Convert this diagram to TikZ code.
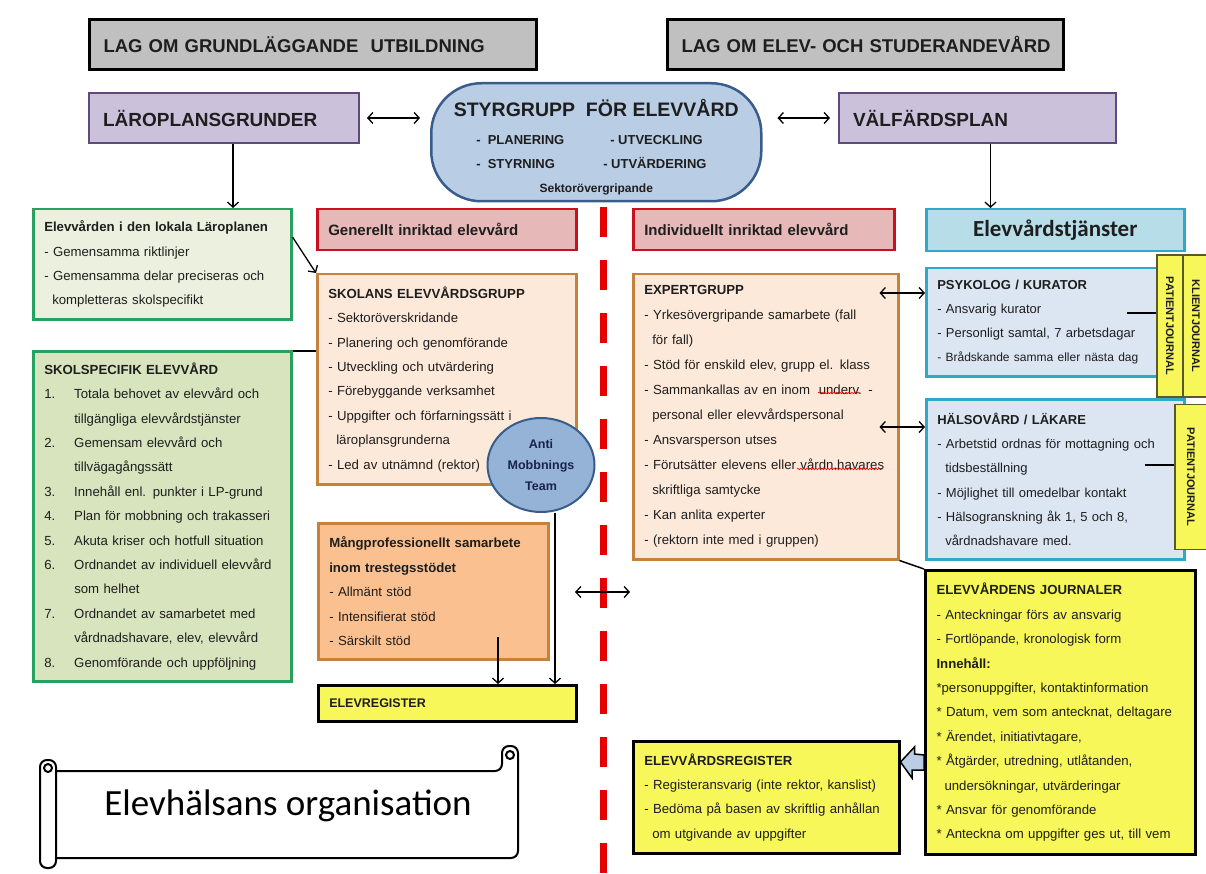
\documentclass[tikz,border=0pt]{standalone}
\usepackage{fontspec}
\setmainfont{Liberation Sans}
\newfontfamily\calibri{Carlito}
\usetikzlibrary{shapes,arrows.meta}
\usetikzlibrary{positioning}
\usetikzlibrary{decorations.pathmorphing}
\definecolor{lawgray}{RGB}{192,192,192}
\definecolor{planfill}{RGB}{204,193,218}
\definecolor{planedge}{RGB}{96,74,123}
\definecolor{styrfill}{RGB}{185,205,229}
\definecolor{styredge}{RGB}{56,93,138}
\definecolor{antifill}{RGB}{149,179,215}
\definecolor{greenedge}{RGB}{40,160,95}
\definecolor{greenfill}{RGB}{235,241,222}
\definecolor{greendark}{RGB}{215,228,189}
\definecolor{rededge}{RGB}{200,16,30}
\definecolor{redfill}{RGB}{230,185,184}
\definecolor{orangeedge}{RGB}{196,130,60}
\definecolor{peach}{RGB}{253,233,217}
\definecolor{peachdark}{RGB}{250,192,144}
\definecolor{cyanedge}{RGB}{45,170,200}
\definecolor{cyanfill}{RGB}{183,222,232}
\definecolor{bluegray}{RGB}{220,230,242}
\definecolor{journyellow}{RGB}{247,247,90}
\definecolor{tabedge}{RGB}{90,90,40}
\definecolor{dashred}{RGB}{228,0,0}
\definecolor{ink}{RGB}{30,30,30}
\definecolor{navy}{RGB}{25,35,75}
\tikzstyle{box} = [draw, rectangle, anchor=north west, line width=2.5pt, inner xsep=11pt,
inner ysep=0pt, align=left, text=ink, font=\fontsize{13.2}{24.4}\selectfont]
\tikzstyle{line} = [draw, line width=1.3pt, -{Straight Barb[length=5pt,width=11pt]}]
\tikzstyle{both} = [draw, line width=1.3pt, {Straight Barb[length=5pt,width=11pt]}-{Straight Barb[length=5pt,width=11pt]}]
\tikzstyle{tab} = [draw=tabedge, line width=1.2pt, fill=journyellow, rotate=-90, inner sep=0pt,
text=ink, font=\fontsize{11}{11}\selectfont\bfseries]
\tikzstyle{spell} = [draw=red, line width=0.6pt, decorate, decoration={snake, amplitude=0.8pt, segment length=3pt}]
\newcommand{\nr}[1]{\makebox[30pt][l]{#1}}
\newcommand{\fort}{\hspace*{8pt}}

\begin{document}
\begin{tikzpicture}[x=1pt, y=-1pt,
	law/.style={box, line width=3pt, fill=lawgray, minimum height=50, inner xsep=14pt,
		font=\fontsize{18.5}{20}\selectfont\bfseries},
	plan/.style={box, line width=2pt, draw=planedge, fill=planfill, minimum height=50,
		inner xsep=14pt, font=\fontsize{19}{20}\selectfont\bfseries},
	styr/.style={draw=styredge, line width=2.5pt, fill=styrfill, rounded corners=50,
		anchor=north west, minimum width=330, minimum height=118, inner sep=0pt, align=center,
		text=ink, font=\fontsize{13}{24}\selectfont\bfseries},
	grn/.style={box, draw=greenedge},
	rd/.style={box, draw=rededge, fill=redfill, minimum height=41, font=\fontsize{15}{16}\selectfont\bfseries},
	org/.style={box, draw=orangeedge},
	cyn/.style={box, draw=cyanedge},
	ylw/.style={box, draw=black, fill=journyellow},
	anti/.style={ellipse, draw=styredge, line width=2pt, fill=antifill,
		minimum width=107, minimum height=94, inner sep=0pt, align=center, text=navy,
		font=\fontsize{12.5}{21}\selectfont\bfseries},
	divider/.style={draw=dashred, line width=7pt, dash pattern=on 30pt off 23pt},
	fat/.style={draw=black, line width=1.5pt, fill=styrfill, line join=miter},
	scroll/.style={draw=black, line width=2pt, fill=white}]
	\useasboundingbox (0,0) rectangle (1206,874);
	%% Laws and plans
	\node [law, text width=419] (lag1) at (88,18) {\mbox{LAG OM GRUNDLÄGGANDE\ \ UTBILDNING}};
	\node [law, text width=368] (lag2) at (666,18) {\mbox{LAG OM ELEV- OCH STUDERANDEVÅRD}};
	\node [plan, text width=242] (lpg) at (88,92) {LÄROPLANSGRUNDER};
	\node [plan, text width=249] (vfp) at (838,92) {VÄLFÄRDSPLAN};
	\node [styr] (styr) at (430,82) {{\fontsize{19.5}{20}\selectfont\rule{0pt}{27pt}STYRGRUPP\ \ FÖR ELEVVÅRD}\\[4pt]
		\makebox[240pt][l]{\makebox[134pt][l]{-\ \ PLANERING}-\ UTVECKLING}\\
		\makebox[240pt][l]{\makebox[127pt][l]{-\ \ STYRNING}-\ UTVÄRDERING}\\
		{\fontsize{12}{12}\selectfont Sektorövergripande}};
	%% Left column
	\node [grn, fill=greenfill, text width=236, minimum height=110] (elev) at (32,208)
		{\textbf{Elevvården i den lokala Läroplanen}\\- Gemensamma riktlinjer\\
		- Gemensamma delar preciseras och\\\fort kompletteras skolspecifikt};
	\node [grn, fill=greendark, text width=236, minimum height=330] (skolsp) at (32,350)
		{\textbf{SKOLSPECIFIK ELEVVÅRD}\\
		\nr{1.}Totala behovet av elevvård och\\
		\nr{}tillgängliga elevvårdstjänster\\
		\nr{2.}Gemensam elevvård och\\
		\nr{}tillvägagångssätt\\
		\nr{3.}Innehåll enl. punkter i LP-grund\\
		\nr{4.}Plan för mobbning och trakasseri\\
		\nr{5.}Akuta kriser och hotfull situation\\
		\nr{6.}Ordnandet av individuell elevvård\\
		\nr{}som helhet\\
		\nr{7.}Ordnandet av samarbetet med\\
		\nr{}vårdnadshavare, elev, elevvård\\
		\nr{8.}Genomförande och uppföljning};
	%% General side
	\node [rd, text width=237] (gen) at (316,208) {Generellt inriktad elevvård};
	\node [org, fill=peach, text width=237, minimum height=210] (skol) at (316,273)
		{\textbf{SKOLANS ELEVVÅRDSGRUPP}\\- Sektoröverskridande\\- Planering och genomförande\\
		- Utveckling och utvärdering\\- Förebyggande verksamhet\\- Uppgifter och förfarningssätt i\\
		\fort läroplansgrunderna\\- Led av utnämnd (rektor)};
	\node [anti] (anti) at (541,465) {Anti\\Mobbnings\\Team};
	\node [org, fill=peachdark, text width=208, minimum height=136] (mprof) at (317,522)
		{\textbf{Mångprofessionellt samarbete}\\\textbf{inom trestegsstödet}\\- Allmänt stöd\\
		- Intensifierat stöd\\- Särskilt stöd};
	\node [ylw, text width=236, minimum height=36, font=\fontsize{12.5}{14}\selectfont\bfseries]
		(elevreg) at (317,684) {ELEVREGISTER};
	%% Individual side
	\node [rd, text width=239] (ind) at (632,208) {Individuellt inriktad elevvård};
	\node [org, fill=peach, text width=243, minimum height=285, font=\fontsize{13.2}{25}\selectfont]
		(expert) at (632,273)
		{\textbf{EXPERTGRUPP}\\- Yrkesövergripande samarbete (fall\\\fort för fall)\\
		- Stöd för enskild elev, grupp el. klass\\- Sammankallas av en inom\ \ underv. -\\
		\fort personal eller elevvårdspersonal\\- Ansvarsperson utses\\
		- Förutsätter elevens eller vårdn.havares\\\fort skriftliga samtycke\\
		- Kan anlita experter\\- (rektorn inte med i gruppen)};
	\node [ylw, text width=244, minimum height=112] (ereg) at (632,740)
		{\textbf{ELEVVÅRDSREGISTER}\\- Registeransvarig (inte rektor, kanslist)\\
		- Bedöma på basen av skriftlig anhållan\\\fort om utgivande av uppgifter};
	%% Services
	\node [cyn, fill=cyanfill, text width=236, minimum height=42, align=center,
		font=\calibri\fontsize{23}{24}\selectfont\bfseries] (tjan) at (925,208) {Elevvårdstjänster};
	\node [cyn, fill=bluegray, text width=236, minimum height=108, font=\fontsize{13}{24}\selectfont]
		(psyk) at (925,267)
		{\textbf{PSYKOLOG / KURATOR}\\- Ansvarig kurator\\- Personligt samtal, 7 arbetsdagar\\
		{\fontsize{12}{24}\selectfont - Brådskande samma eller nästa dag}};
	\node [cyn, fill=bluegray, text width=236, minimum height=160, font=\fontsize{13}{24.2}\selectfont]
		(halso) at (925,398)
		{\textbf{HÄLSOVÅRD / LÄKARE}\\- Arbetstid ordnas för mottagning och\\\fort tidsbeställning\\
		- Möjlighet till omedelbar kontakt\\- Hälsogranskning åk 1, 5 och 8,\\\fort vårdnadshavare med.};
	\node [tab, minimum width=142, minimum height=26] (kj) at (1196,326) {KLIENTJOURNAL};
	\node [tab, minimum width=142, minimum height=26] (pj1) at (1170,326) {PATIENTJOURNAL};
	\node [tab, minimum width=145, minimum height=32] (pj2) at (1191,477) {PATIENTJOURNAL};
	\node [ylw, line width=3pt, text width=248, minimum height=284] (journ) at (924,569)
		{\textbf{ELEVVÅRDENS JOURNALER}\\- Anteckningar förs av ansvarig\\
		- Fortlöpande, kronologisk form\\\textbf{Innehåll:}\\{}*personuppgifter, kontaktinformation\\
		{}* Datum, vem som antecknat, deltagare\\{}* Ärendet, initiativtagare,\\
		{}* Åtgärder, utredning, utlåtanden,\\\fort undersökningar, utvärderingar\\
		{}* Ansvar för genomförande\\{}* Anteckna om uppgifter ges ut, till vem};
	%% Divider
	\draw [divider] (603,207) -- (603,874);
	%% Flows
	\draw [both] ([xshift=7pt]lpg.east) -- ([xshift=-10pt]lpg.east -| styr.west);
	\draw [both] ([xshift=15pt]vfp.west -| styr.east) -- ([xshift=-8pt]vfp.west);
	\draw [line] ([xshift=9pt]lpg.south) -- ([xshift=9pt]lpg.south |- elev.north);
	\draw [line] ([xshift=13pt]vfp.south) -- ([xshift=13pt]vfp.south |- tjan.north);
	\draw [line] ([yshift=-29pt]elev.north east) -- (skol.north west);
	\draw [line width=1.3pt] ([yshift=-1pt]skolsp.north east) -- ([yshift=-1pt]skolsp.north east -| skol.west);
	\coordinate (p1) at ([yshift=-26pt]psyk.north west);
	\coordinate (p2) at ([yshift=-29pt]halso.north west);
	\draw [both] (p1) -- ([xshift=-20pt]p1 -| expert.east);
	\draw [both] (p2) -- ([xshift=-20pt]p2 -| expert.east);
	\draw [line width=1.5pt] (expert.south east) -- (journ.north west);
	\coordinate (gl) at (575,592);
	\coordinate (gr) at (630,592);
	\draw [both] (gl) -- (gr);
	\coordinate (mp) at (498,637);
	\draw [line] (mp) -- (mp |- elevreg.north);
	\draw [line] ([xshift=14pt]anti.south) -- ([xshift=14pt]anti.south |- elevreg.north);
	\coordinate (s1) at (1127,313);
	\coordinate (s2) at (1145,465);
	\draw [line width=2.5pt] (s1) -- (s1 -| pj1.south);
	\draw [line width=2.5pt] (s2) -- (s2 -| pj2.south);
	\coordinate (fy) at (0,762);
	\coordinate (tip) at (ereg.east |- fy);
	\draw [fat] (tip) -- ++(14,-15) -- ++(0,7) -- (journ.west |- 0,755) -- (journ.west |- 0,770)
		-- ++(-12,0) -- ++(0,8) -- cycle;
	%% Spell marks
	\draw [spell] (818,393) -- (860,393);
	\draw [spell] (797,469) -- (882,469);
	%% Scroll
	\draw [scroll, rounded corners=7] (56,771) -- (502,771) -- (502,746) -- (518,746) -- (518,858) -- (56,858);
	\draw [scroll] (510,755) circle [radius=4];
	\draw [scroll, rounded corners=7] (40,760) rectangle (56,868);
	\draw [scroll] (48,768) circle [radius=4];
	\node [font=\calibri\fontsize{37}{37}\selectfont, text=black] (titel) at (288,806) {Elevhälsans organisation};
\end{tikzpicture}
\end{document}
